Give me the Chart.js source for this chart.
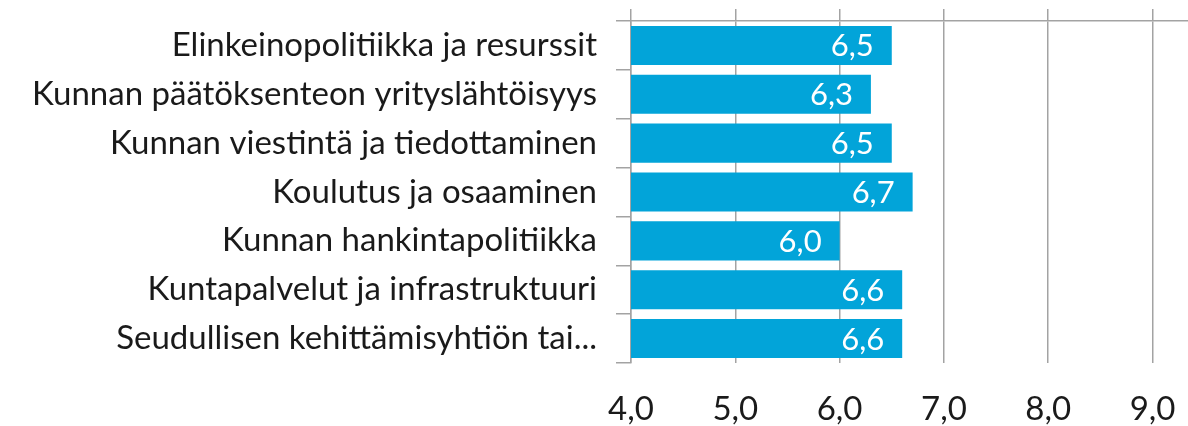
<!DOCTYPE html>
<html lang="fi">
<head>
<meta charset="UTF-8">
<title>Arviot</title>
<style>
  body { margin: 0; background: #fff; }
  #chart { display: block; }
</style>
</head>
<body>
<canvas id="chart" width="1188" height="426"></canvas>
<script src="https://cdn.jsdelivr.net/npm/chart.js"></script>
<script>
const categories = [
  'Elinkeinopolitiikka ja resurssit',
  'Kunnan päätöksenteon yrityslähtöisyys',
  'Kunnan viestintä ja tiedottaminen',
  'Koulutus ja osaaminen',
  'Kunnan hankintapolitiikka',
  'Kuntapalvelut ja infrastruktuuri',
  'Seudullisen kehittämisyhtiön tai...'
]
const values = [6.5, 6.3, 6.5, 6.7, 6.0, 6.6, 6.6]
const xTicks = [4, 5, 6, 7, 8, 9]

const gridColor = '#a3a3a3'
const fmt = v => Number(v).toFixed(1).replace('.', ',')

// white value labels at the inner end of each bar
const barLabels = {
  id: 'barLabels',
  afterDatasetsDraw(chart) {
    const ctx = chart.ctx
    const meta = chart.getDatasetMeta(0)
    ctx.save()
    ctx.fillStyle = '#fff'
    ctx.font = '31px Lato'
    ctx.textAlign = 'right'
    ctx.textBaseline = 'middle'
    meta.data.forEach((bar, i) => {
      ctx.fillText(fmt(values[i]), bar.x - 18, bar.y + 1)
    })
    ctx.restore()
  }
}

new Chart(document.querySelector('#chart'), {
  type: 'bar',
  data: {
    labels: categories,
    datasets: [{
      data: values,
      backgroundColor: '#02a4d9',
      borderWidth: 0,
      categoryPercentage: 0.8,
      barPercentage: 1
    }]
  },
  options: {
    indexAxis: 'y',
    responsive: false,
    animation: false,
    layout: { padding: { top: 9, left: 0, right: 0, bottom: 0 } },
    plugins: { legend: { display: false }, tooltip: { enabled: false } },
    scales: {
      x: {
        position: 'top',
        min: 4,
        max: 9.34,
        afterBuildTicks: s => { s.ticks = xTicks.map(v => ({ value: v })) },
        afterFit: s => { s.height = 12 },
        ticks: { display: false },
        grid: { color: gridColor, lineWidth: 1.5, tickLength: 12 },
        border: { color: gridColor, width: 1.5 }
      },
      x2: {
        position: 'bottom',
        type: 'linear',
        min: 4,
        max: 9.34,
        afterBuildTicks: s => { s.ticks = xTicks.map(v => ({ value: v })) },
        afterFit: s => { s.height = 63; s.paddingLeft = 0; s.paddingRight = 0 },
        grid: { display: false },
        border: { display: false },
        ticks: {
          color: '#1a1a1a',
          font: { family: 'Lato', size: 33 },
          padding: 19,
          maxRotation: 0,
          callback: v => fmt(v)
        }
      },
      y: {
        afterFit: s => { s.width = 631; s.paddingTop = 0; s.paddingBottom = 0 },
        grid: { offset: true, drawOnChartArea: false, color: gridColor, lineWidth: 1.5, tickLength: 15 },
        border: { color: gridColor, width: 1.5 },
        ticks: {
          color: '#1a1a1a',
          font: { family: 'Lato', size: 33 },
          padding: 19
        }
      }
    }
  },
  plugins: [barLabels]
})
</script>
</body>
</html>
